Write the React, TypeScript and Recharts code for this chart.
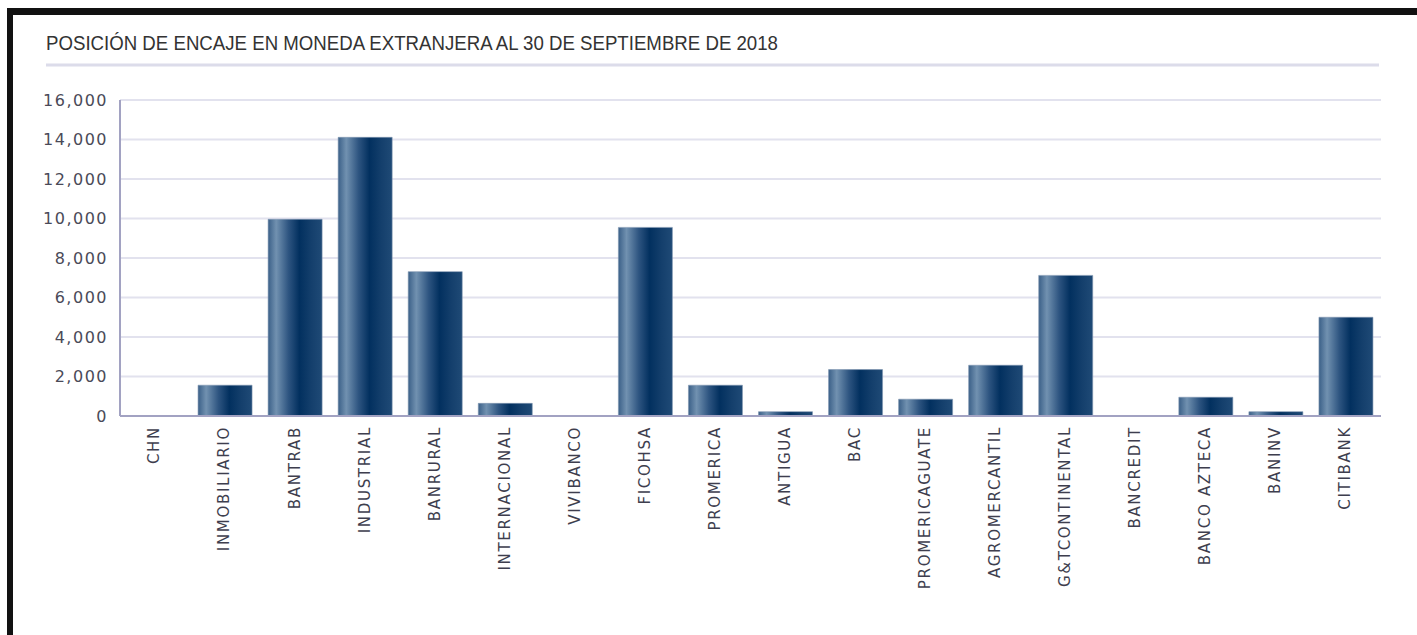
import { Bar, BarChart, CartesianGrid, XAxis, YAxis } from 'recharts';

const bancos = [
  'CHN',
  'INMOBILIARIO',
  'BANTRAB',
  'INDUSTRIAL',
  'BANRURAL',
  'INTERNACIONAL',
  'VIVIBANCO',
  'FICOHSA',
  'PROMERICA',
  'ANTIGUA',
  'BAC',
  'PROMERICAGUATE',
  'AGROMERCANTIL',
  'G&TCONTINENTAL',
  'BANCREDIT',
  'BANCO AZTECA',
  'BANINV',
  'CITIBANK'
];

const encaje = [
  0, 1560, 9960, 14110, 7310, 640, 0, 9550, 1560, 220, 2350, 850, 2570, 7120, 0, 950, 220, 5000
];

const yTicks = [0, 2000, 4000, 6000, 8000, 10000, 12000, 14000, 16000];

const titulo = 'POSICIÓN DE ENCAJE EN MONEDA EXTRANJERA AL 30 DE SEPTIEMBRE DE 2018';

const data = bancos.map((banco, i) => ({ banco, valor: encaje[i] }));

const fmt = (v: number) => v.toLocaleString('en-US');

// etiquetas verticales, leidas de abajo hacia arriba
function BancoTick({ x, y, payload }: any) {
  const ty = y + 2;
  return (
    <text
      x={x - 1}
      y={ty}
      dy="0.36em"
      transform={`rotate(-90, ${x - 1}, ${ty})`}
      textAnchor="end"
      fill="#3e3e4e"
      fontSize={15}
      letterSpacing={1.7}
      fontFamily="DejaVu Sans, sans-serif"
    >
      {payload.value}
    </text>
  );
}

export default function App() {
  return (
    <div
      style={{
        position: 'absolute',
        left: 0,
        top: 0,
        width: 1417,
        height: 635,
        overflow: 'hidden',
        background: '#fff'
      }}
    >
      <div
        style={{
          position: 'absolute',
          left: 7,
          top: 8,
          width: 1500,
          height: 700,
          borderLeft: '6px solid #111',
          borderTop: '7px solid #111'
        }}
      />
      <svg
        width={1417}
        height={80}
        style={{ position: 'absolute', left: 0, top: 0 }}
      >
        <text
          x={46}
          y={50}
          fontSize={20}
          fill="#333"
          fontFamily="Liberation Sans, sans-serif"
          textLength={732}
          lengthAdjust="spacingAndGlyphs"
        >
          {titulo}
        </text>
        <line x1={46} x2={1379} y1={65} y2={65} stroke="#dcdcea" strokeWidth={3} />
      </svg>
      <div style={{ position: 'absolute', left: 0, top: 0 }}>
        <BarChart
          width={1417}
          height={635}
          data={data}
          margin={{ top: 100, right: 36, left: 40, bottom: 19 }}
        >
          <defs>
            <linearGradient id="barGrad" x1="0" y1="0" x2="1" y2="0">
              <stop offset="0%" stopColor="#3b6088" />
              <stop offset="15%" stopColor="#7191b0" />
              <stop offset="38%" stopColor="#2d5480" />
              <stop offset="58%" stopColor="#02305f" />
              <stop offset="80%" stopColor="#143f6c" />
              <stop offset="100%" stopColor="#1f4a76" />
            </linearGradient>
          </defs>
          <CartesianGrid
            vertical={false}
            stroke="#e2e2ee"
            strokeWidth={2}
          />
          <XAxis
            dataKey="banco"
            interval={0}
            height={200}
            tick={<BancoTick />}
            tickLine={false}
            axisLine={{ stroke: '#a2a2c2', strokeWidth: 2 }}
          />
          <YAxis
            width={80}
            domain={[0, 16000]}
            ticks={yTicks}
            tickFormatter={fmt}
            tickSize={0}
            tickMargin={12}
            tickLine={false}
            axisLine={{ stroke: '#a2a2c2', strokeWidth: 2 }}
            tick={{
              fill: '#4a4a58',
              fontSize: 16,
              letterSpacing: 1.5,
              fontFamily: 'DejaVu Sans, sans-serif'
            }}
          />
          <Bar
            dataKey="valor"
            barSize={54}
            fill="url(#barGrad)"
            stroke="#8196b0"
            strokeWidth={1}
            strokeOpacity={0.6}
            isAnimationActive={false}
          />
        </BarChart>
      </div>
    </div>
  );
}
